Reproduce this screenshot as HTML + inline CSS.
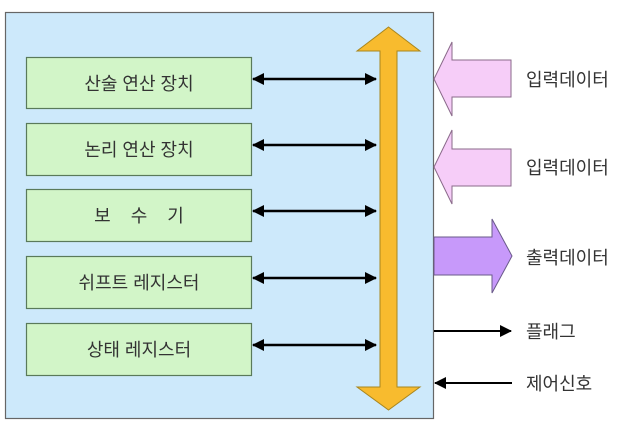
<!DOCTYPE html>
<html><head><meta charset="utf-8"><style>
html,body{margin:0;padding:0;background:#fff;}
svg{display:block;}
text{font-family:"Liberation Sans","Noto Sans CJK KR",sans-serif;fill:#333;}
</style></head><body>
<svg width="641" height="426" viewBox="0 0 641 426" xmlns="http://www.w3.org/2000/svg">
<defs>
<marker id="ah" markerWidth="12" markerHeight="12" refX="11" refY="6" orient="auto-start-reverse" markerUnits="userSpaceOnUse">
<path d="M0,0 L12,6 L0,12 z" fill="#000"/>
</marker>
</defs>
<rect x="5.5" y="12.5" width="428" height="406" fill="#cde9fb" stroke="#666" stroke-width="1.2"/>
<g stroke="#5a7a5a" stroke-width="1.2" fill="#d2f5c8">
<rect x="26.5" y="57.5" width="225" height="51"/>
<rect x="26.5" y="123.5" width="225" height="52"/>
<rect x="26.5" y="189.5" width="225" height="52"/>
<rect x="26.5" y="256.5" width="225" height="52"/>
<rect x="26.5" y="323.5" width="225" height="52"/>
</g>
<g font-size="18" text-anchor="middle">
<text x="139" y="90">산술 연산 장치</text>
<text x="139" y="156">논리 연산 장치</text>
<text x="139" y="222" xml:space="preserve">보    수    기</text>
<text x="139" y="289">쉬프트 레지스터</text>
<text x="139" y="356">상태 레지스터</text>
</g>
<g stroke="#000" stroke-width="2.4" marker-start="url(#ah)" marker-end="url(#ah)">
<line x1="253" y1="79" x2="376" y2="79"/>
<line x1="253" y1="145" x2="376" y2="145"/>
<line x1="253" y1="211" x2="376" y2="211"/>
<line x1="253" y1="278" x2="376" y2="278"/>
<line x1="253" y1="345" x2="376" y2="345"/>
</g>
<path d="M388.5,27 L420,51 L397,51 L397,387 L420,387 L388.5,410 L357,387 L380,387 L380,51 L357,51 z" fill="#f8bb2e" stroke="#a8861e" stroke-width="1"/>
<path d="M434,79 L452,42 L452,60 L511,60 L511,97 L452,97 L452,116 z" fill="#f6cdf8" stroke="#8a6a8a" stroke-width="1"/>
<path d="M434,167 L452,130 L452,149 L511,149 L511,186 L452,186 L452,204 z" fill="#f6cdf8" stroke="#8a6a8a" stroke-width="1"/>
<path d="M434,237 L492,237 L492,219 L512,256 L492,293 L492,275 L434,275 z" fill="#c799fa" stroke="#6a5a8a" stroke-width="1"/>
<line x1="434" y1="331" x2="511" y2="331" stroke="#000" stroke-width="2" marker-end="url(#ah)"/>
<line x1="512" y1="383" x2="435" y2="383" stroke="#000" stroke-width="2" marker-end="url(#ah)"/>
<g font-size="18">
<text x="526" y="86">입력데이터</text>
<text x="526" y="174">입력데이터</text>
<text x="526" y="264">출력데이터</text>
<text x="526" y="338">플래그</text>
<text x="526" y="390">제어신호</text>
</g>
</svg>
</body></html>
